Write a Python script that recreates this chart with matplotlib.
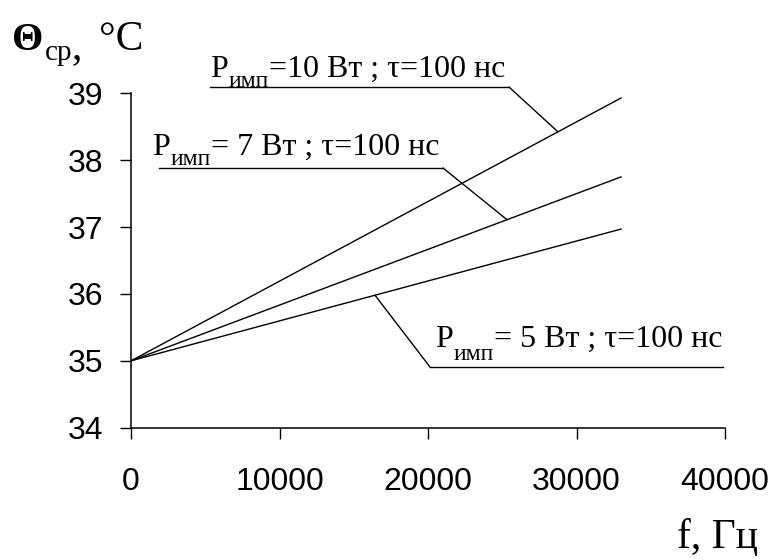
import numpy as np
import matplotlib
matplotlib.use("Agg")
from matplotlib import pyplot as plt
from matplotlib.lines import Line2D

# data
freq = [0, 33000]
theta_10w = [35.0, 38.93]
theta_7w = [35.0, 37.75]
theta_5w = [35.0, 36.97]

xticks = [0, 10000, 20000, 30000, 40000]
yticks = [34, 35, 36, 37, 38, 39]

W, H = 778, 560
serif = "Liberation Serif"
sans = "Liberation Sans"

fig = plt.figure(figsize=(W / 100, H / 100), dpi=100)
ax = fig.add_axes([131 / W, 1 - 427.7 / H, (725 - 131) / W, (427.7 - 93.3) / H])

for y in [theta_10w, theta_7w, theta_5w]:
    ax.plot(freq, y, color="black", lw=1.0)

ax.set_xlim(0, 40000)
ax.set_ylim(34, 39)
ax.set_xticks(xticks)
ax.set_yticks(yticks)
ax.set_xticklabels([str(v) for v in xticks])
ax.set_yticklabels([str(v) for v in yticks])
for s in ["top", "right"]:
    ax.spines[s].set_visible(False)
for s in ["left", "bottom"]:
    ax.spines[s].set_linewidth(1.1)
ax.tick_params(axis="both", direction="out", length=8, width=1.0, labelsize=23)
ax.tick_params(axis="y", pad=12)
ax.tick_params(axis="x", pad=20)
for lab in ax.get_xticklabels() + ax.get_yticklabels():
    lab.set_family(sans)

renderer = fig.canvas.get_renderer()


def put(x, y, s, size, **kw):
    # x, y in image pixels (y from top), baseline aligned, returns right edge
    t = fig.text(x / W, 1 - y / H, s, fontsize=size, family=serif,
                 ha="left", va="baseline", **kw)
    return t.get_window_extent(renderer).x1


def label(x, y, rest, sub_dy=10):
    x = put(x, y, "P", 23)
    x = put(x + 1, y + sub_dy, "имп", 17)
    put(x, y, rest, 23)


def underline(x0, x1, y):
    fig.add_artist(Line2D([x0 / W, x1 / W], [1 - y / H] * 2,
                          transform=fig.transFigure, color="black", lw=1.0))


def leader(px, py, xd, series):
    yd = np.interp(xd, freq, series)
    ax.annotate("", xy=(xd, yd), xycoords="data",
                xytext=(px, H - py), textcoords="figure pixels",
                arrowprops=dict(arrowstyle="-", color="black", lw=1.0,
                                shrinkA=0, shrinkB=0),
                annotation_clip=False)


label(210, 77, "=10 Вт ; τ=100 нс", 10)
underline(210, 509, 87)
leader(509, 87, 28750, theta_10w)

label(152, 155, "= 7 Вт ; τ=100 нс", 10)
underline(159, 443, 168)
leader(443, 168, 25320, theta_7w)

label(435, 347, "= 5 Вт ; τ=100 нс", 13)
underline(430, 723, 367)
leader(430, 367, 16430, theta_5w)

# axis titles
x = put(12, 50, "Θ", 29, weight="bold")
x = put(x + 1, 60, "ср", 21)
put(x, 58, ",", 30)
put(99, 50, "°C", 30)

put(677, 548, "f, Гц", 30)

fig.savefig("out.png", dpi=100)
